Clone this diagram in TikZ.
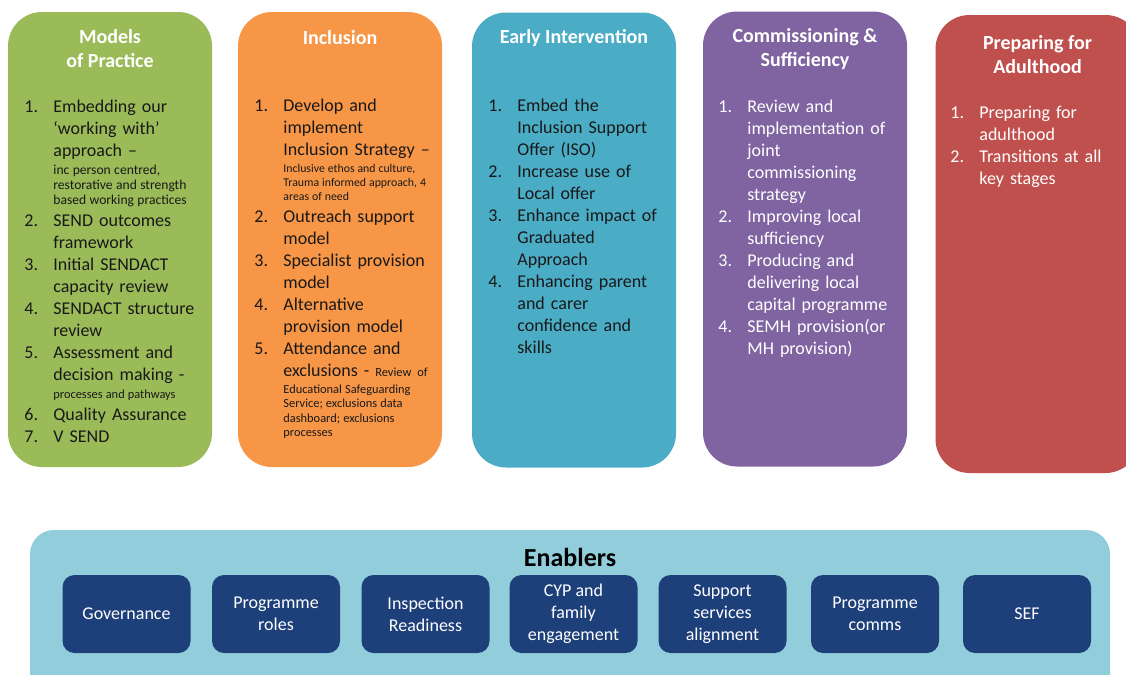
\documentclass[tikz,border=0pt]{standalone}
\usepackage{fontspec}
\setmainfont{Carlito}
\usepackage{tikz}
\usetikzlibrary{positioning}
\definecolor{mopgreen}{RGB}{155, 187, 89}
\definecolor{incorange}{RGB}{247, 150, 70}
\definecolor{eiblue}{RGB}{75, 172, 198}
\definecolor{compurple}{RGB}{128, 100, 162}
\definecolor{pfared}{RGB}{192, 80, 77}
\definecolor{enabback}{RGB}{146, 205, 220}
\definecolor{enabnavy}{RGB}{29, 63, 122}
\definecolor{inktext}{RGB}{25, 25, 25}

\newlength{\numw}
\setlength{\numw}{14.5pt}
\newcommand{\itm}[2]{\par\hangindent=\numw\hangafter=1\noindent\strut\makebox[\numw][l]{#1}#2\strut}
\newcommand{\smallnote}[3][6.8]{\par{\leftskip=\numw\rightskip=0pt plus 1fil\noindent
  \fontsize{#1}{#2}\selectfont\spaceskip=0.25em plus 0.05em minus 0.02em #3\par}}

\begin{document}
\begin{tikzpicture}[x=0.5pt, y=-0.5pt,
    column/.style={rounded corners=17pt, minimum width=102pt, minimum height=227.5pt, inner sep=0pt},
    coltitle/.style={text=white, align=center, font=\bfseries\fontsize{10}{12}\selectfont},
    items/.style={anchor=north west, inner sep=0pt, text width=100pt, align=left,
                  font=\fontsize{9}{11}\selectfont},
    enabler/.style={fill=enabnavy, rounded corners=6pt, minimum width=64pt, minimum height=39pt,
                    text=white, align=center, font=\fontsize{9}{11}\selectfont}]

  \useasboundingbox (0, 0) rectangle (1126, 675);
  \clip (0, 0) rectangle (1126, 675);

  % workstream columns
  \node[column, fill=mopgreen]   (mop) at (110, 239.5) {};
  \node[column, fill=incorange]  (inc) at (340, 239.5) {};
  \node[column, fill=eiblue]     (ei)  at (574, 240)   {};
  \node[column, fill=compurple]  (com) at (805, 239)   {};
  \node[column, fill=pfared, minimum height=229pt] (pfa) at (1037.5, 244) {};

  \node[coltitle] (mopT) at (110, 49)    {Models\\of Practice};
  \node[coltitle] (incT) at (340, 38)    {Inclusion};
  \node[coltitle] (eiT)  at (574, 38)    {Early Intervention};
  \node[coltitle] (comT) at (805, 49)    {Commissioning \&\\Sufficiency};
  \node[coltitle] (pfaT) at (1037.5, 55) {Preparing for\\Adulthood};

  \node[items, text=inktext] (mopL) at (24, 90) {%
    \itm{1.}{Embedding our\newline ‘working with’\newline approach –}
    \smallnote{7.6}{inc person centred,\newline restorative and strength\newline based working practices}
    \itm{2.}{SEND outcomes\newline framework}
    \itm{3.}{Initial SENDACT\newline capacity review}
    \itm{4.}{SENDACT structure\newline review}
    \itm{5.}{Assessment and\newline decision making -}
    \smallnote[6.2]{7.6}{processes and pathways}
    \itm{6.}{Quality Assurance}
    \itm{7.}{V SEND}\par};

  \node[items, text=inktext] (incL) at (254, 89) {%
    \itm{1.}{Develop and\newline implement\newline Inclusion Strategy –}
    \smallnote[5.9]{7}{Inclusive ethos and culture,\newline Trauma informed approach, 4\newline areas of need}
    \itm{2.}{Outreach support\newline model}
    \itm{3.}{Specialist provision\newline model}
    \itm{4.}{Alternative\newline provision model}
    \itm{5.}{Attendance and\newline exclusions - {\fontsize{6.2}{7}\selectfont Review of}}
    \smallnote[6.2]{7.2}{Educational Safeguarding\newline Service; exclusions data\newline dashboard; exclusions\newline processes}\par};

  \node[items, text=inktext] (eiL) at (488, 89) {%
    \itm{1.}{Embed the\newline Inclusion Support\newline Offer (ISO)}
    \itm{2.}{Increase use of\newline Local offer}
    \itm{3.}{Enhance impact of\newline Graduated\newline Approach}
    \itm{4.}{Enhancing parent\newline and carer\newline confidence and\newline skills}\par};

  \node[items, text=white] (comL) at (718, 90) {%
    \itm{1.}{Review and\newline implementation of\newline joint\newline commissioning\newline strategy}
    \itm{2.}{Improving local\newline sufficiency}
    \itm{3.}{Producing and\newline delivering local\newline capital programme}
    \itm{4.}{SEMH provision(or\newline MH provision)}\par};

  \node[items, text=white] (pfaL) at (950, 96) {%
    \itm{1.}{Preparing for\newline adulthood}
    \itm{2.}{Transitions at all\newline key stages}\par};

  % enablers band
  \node[fill=enabback, rounded corners=12pt, minimum width=540pt, minimum height=85pt, inner sep=0pt]
    (enab) at (570, 615) {};
  \node[font=\bfseries\fontsize{13}{15}\selectfont, text=black] (enabT) at (570, 557) {Enablers};

  \foreach \cx/\nm/\txt in {126.5/gov/Governance, 276/roles/{Programme\\roles},
                            425.5/insp/{Inspection\\Readiness}, 573.5/cyp/{CYP and\\family\\engagement},
                            722.5/supp/{Support\\services\\alignment}, 875/comms/{Programme\\comms},
                            1027/sef/SEF} {
    \node[enabler] (\nm) at (\cx, 614) {\txt};
  }

\end{tikzpicture}
\end{document}
